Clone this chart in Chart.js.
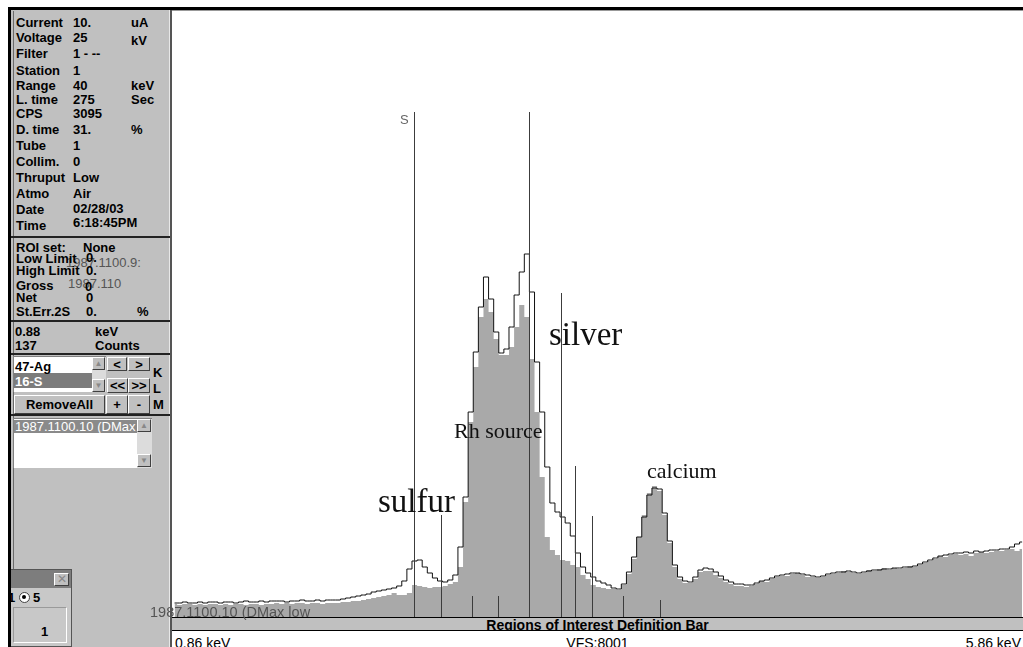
<!DOCTYPE html>
<html lang="en">
<head>
<meta charset="UTF-8">
<title>XRF spectrum</title>
<script src="https://cdn.jsdelivr.net/npm/chart.js"></script>
<style>
    body { margin: 0; width: 1023px; height: 647px; overflow: hidden; background: #fff; position: relative;
           font-family: "Liberation Sans", Arial, sans-serif; }
    .abs { position: absolute; }
    .t { position: absolute; font-size: 13px; line-height: 13px; white-space: nowrap; color: #000; }
    .b { font-weight: bold; }
    .note { position: absolute; font-family: "Liberation Serif", "Times New Roman", serif; line-height: 1; white-space: nowrap; color: #111; }
    .btn { position: absolute; background: #c0c0c0; border-top: 1px solid #fff; border-left: 1px solid #fff;
           border-right: 1px solid #404040; border-bottom: 1px solid #404040; box-sizing: border-box;
           font: bold 13px "Liberation Sans", Arial, sans-serif; text-align: center; line-height: 13px; }
    .sep { position: absolute; left: 11px; width: 159px; height: 2px; background: #222; }
</style>
</head>
<body>
<!-- window frame -->
<div class="abs" style="left:8px;top:7px;width:1015px;height:3px;background:#000"></div>
<div class="abs" style="left:11px;top:10px;width:158px;height:637px;background:#c0c0c0"></div>
<div class="abs" style="left:13px;top:11px;width:1px;height:558px;background:#6a6a6a"></div>
<div class="abs" style="left:169px;top:10px;width:1px;height:637px;background:#e8e8e8"></div>
<div class="abs" style="left:170px;top:10px;width:2px;height:637px;background:#555"></div>
<div class="sep" style="top:236px"></div>
<div class="sep" style="top:320px"></div>
<div class="sep" style="top:353px"></div>
<div class="sep" style="top:414px"></div>

<!-- chart area -->
<div class="abs" style="left:172px;top:10px;width:851px;height:607px;background:#fff;border-top:1px solid #999;box-sizing:border-box"></div>
<canvas id="spec" width="851" height="607" class="abs" style="left:172px;top:10px;width:851px;height:607px"></canvas>

<!-- ROI bar -->
<div class="abs" style="left:172px;top:617px;width:851px;height:1px;background:#000"></div>
<div class="abs" style="left:172px;top:618px;width:851px;height:12px;background:#c0c0c0"></div>
<div class="abs" style="left:172px;top:630px;width:851px;height:1px;background:#000"></div>
<div class="t b" style="left:172px;width:851px;text-align:center;top:618px;font-size:14px;line-height:14px;height:12px;overflow:hidden">Regions of Interest Definition Bar</div>
<div class="t" style="left:175px;top:636px;font-size:14px;line-height:14px">0.86 keV</div>
<div class="t" style="left:172px;width:851px;text-align:center;top:636px;font-size:14px;line-height:14px">VFS:8001</div>
<div class="t" style="right:2px;top:636px;font-size:14px;line-height:14px">5.86 keV</div>

<!-- list boxes and buttons -->
<div class="abs" style="left:13px;top:356px;width:93px;height:36px;background:#fff;border-top:1px solid #808080;border-left:1px solid #808080;box-sizing:border-box"></div>
<div class="abs" style="left:14px;top:373px;width:78px;height:15px;background:#7c7c7c"></div>
<div class="abs" style="left:92px;top:357px;width:14px;height:35px;background:#dcdcdc"></div>
<div class="btn" style="left:92px;top:357px;width:13px;height:13px;font-size:8px;line-height:11px;color:#888">&#9650;</div>
<div class="btn" style="left:92px;top:379px;width:13px;height:13px;font-size:8px;line-height:11px;color:#888">&#9660;</div>
<div class="btn" style="left:107px;top:357px;width:20px;height:14px">&lt;</div>
<div class="btn" style="left:128px;top:357px;width:22px;height:14px">&gt;</div>
<div class="btn" style="left:107px;top:378px;width:21px;height:15px">&lt;&lt;</div>
<div class="btn" style="left:128px;top:378px;width:22px;height:15px">&gt;&gt;</div>
<div class="btn" style="left:14px;top:395px;width:91px;height:19px;line-height:17px">RemoveAll</div>
<div class="btn" style="left:106px;top:395px;width:22px;height:19px;line-height:17px">+</div>
<div class="btn" style="left:128px;top:395px;width:22px;height:19px;line-height:17px">-</div>

<div class="abs" style="left:13px;top:418px;width:139px;height:50px;background:#fff;border-top:1px solid #808080;border-left:1px solid #808080;box-sizing:border-box"></div>
<div class="abs" style="left:14px;top:420px;width:123px;height:13px;background:#8a8a8a"></div>
<div class="abs" style="left:137px;top:419px;width:15px;height:49px;background:#dcdcdc"></div>
<div class="btn" style="left:137px;top:419px;width:14px;height:13px;font-size:8px;line-height:11px;color:#888">&#9650;</div>
<div class="btn" style="left:137px;top:454px;width:14px;height:13px;font-size:8px;line-height:11px;color:#888">&#9660;</div>

<!-- small floating window -->
<div class="abs" style="left:8px;top:569px;width:64px;height:78px;background:#c8c8c8;border:1px solid #555;box-sizing:border-box"></div>
<div class="abs" style="left:9px;top:570px;width:62px;height:18px;background:#7d7d7d"></div>
<div class="btn" style="left:54px;top:573px;width:15px;height:13px;font-weight:normal;color:#888;font-size:12px;line-height:11px">&#10005;</div>
<div class="abs" style="left:19px;top:592px;width:9px;height:9px;border-radius:50%;background:#fff;border:1px solid #444"></div>
<div class="abs" style="left:22px;top:595px;width:4px;height:4px;border-radius:50%;background:#000"></div>
<div class="abs" style="left:13px;top:607px;width:54px;height:36px;border-right:1px solid #fff;border-bottom:1px solid #fff;border-top:1px solid #9a9a9a;border-left:1px solid #9a9a9a;box-sizing:border-box"></div>
<div class="abs" style="left:8px;top:7px;width:3px;height:640px;background:#000"></div>

<div id="texts"></div>

<script>
// channel layout of the spectrum (keV)
const binStart = 0.86;
const binWidth = 0.03;

// grey filled spectrum (sample), counts per channel
const sampleCounts = [
    13,12,13,13,12,13,12,13,13,12,13,12,13,13,12,13,13,12,13,13,14,
    13,14,13,14,14,13,14,14,13,14,
    14,14,15,15,
    16,16,17,18,19,20,21,22,24,22,
    22,24,32,31,30,29,30,30,31,33,35,
    50,115,195,250,300,318,305,278,262,262,270,290,312,300,
    258,205,140,80,67,62,57,56,52,50,42,38,32,30,29,28,28,27,
    32,43,58,80,102,124,131,126,102,74,50,38,34,34,
    38,45,46,46,42,39,35,33,31,31,30,31,
    33,36,35,38,40,41,41,43,44,42,40,40,39,
    40,42,43,44,46,45,44,43,44,47,46,48,49,47,
    49,48,49,51,50,52,54,56,58,61,60,62,63,
    62,63,61,64,65,64,65,66,66,67,68,66,68
];

// black outline spectrum (reference), counts per channel
const refCounts = [
    14,14,15,14,14,15,14,15,15,14,15,15,14,15,16,15,15,16,15,16,16,
    16,15,16,16,17,16,16,17,16,17,
    17,17,18,19,
    20,21,22,23,25,26,27,28,29,31,
    36,48,56,57,50,44,39,36,35,37,42,
    70,120,205,265,310,340,318,285,264,268,290,322,345,363,
    325,255,205,150,114,105,100,94,81,64,50,44,40,36,34,32,29,28,
    33,45,60,80,100,122,129,128,104,76,52,40,36,35,
    40,47,49,48,45,41,37,35,33,33,32,32,
    34,36,37,39,41,42,43,44,44,43,42,41,40,
    41,43,44,45,45,46,45,44,45,46,47,47,48,48,
    49,49,50,50,51,53,55,57,59,61,62,63,64,
    64,65,64,66,65,66,67,67,68,68,70,73,75
];

// element line markers: energy (keV) and marker height (counts)
const markerKeV = [2.282, 2.440, 2.620, 2.778, 2.960, 3.145, 3.228, 3.328, 3.507, 3.727];
const markerTop = [505, 102, 21, 21, 505, 324, 151, 101, 21, 17];

const toPoints = arr => arr.map((v, i) => ({ x: binStart + (i + 0.5) * binWidth, y: v }));

const markerLines = {
    id: 'markerLines',
    afterDatasetsDraw(chart) {
        const { ctx, scales: { x, y } } = chart;
        ctx.save();
        ctx.strokeStyle = '#3c3c3c';
        ctx.lineWidth = 1;
        markerKeV.forEach((e, i) => {
            const px = Math.round(x.getPixelForValue(e)) + 0.5;
            ctx.beginPath();
            ctx.moveTo(px, y.getPixelForValue(markerTop[i]));
            ctx.lineTo(px, y.getPixelForValue(0));
            ctx.stroke();
        });
        ctx.restore();
    }
};

new Chart(document.getElementById('spec'), {
    type: 'line',
    data: {
        datasets: [
            { data: toPoints(refCounts), stepped: 'middle', fill: false, borderColor: '#111', borderWidth: 1, pointRadius: 0, order: 1 },
            { data: toPoints(sampleCounts), stepped: 'middle', fill: 'origin', backgroundColor: '#a9a9a9', borderColor: '#a9a9a9', borderWidth: 0, pointRadius: 0, order: 2 }
        ]
    },
    options: {
        responsive: false,
        animation: false,
        devicePixelRatio: 1,
        layout: { padding: 0 },
        scales: {
            x: { type: 'linear', min: 0.86, max: 5.86, display: false },
            y: { min: 0, max: 607, display: false }
        },
        plugins: { legend: { display: false }, tooltip: { enabled: false } }
    },
    plugins: [markerLines]
});

// panel text
const box = document.getElementById('texts');
function put(text, left, cy, cls, extra) {
    const d = document.createElement('div');
    d.className = 't ' + (cls || '');
    d.textContent = text;
    d.style.left = left + 'px';
    d.style.top = (cy - 6) + 'px';
    if (extra) Object.assign(d.style, extra);
    box.appendChild(d);
}
const status = [
    ['Current', '10.', 'uA', 22, 22, 22],
    ['Voltage', '25', 'kV', 37, 37, 40],
    ['Filter', '1 - --', '', 53, 53],
    ['Station', '1', '', 70, 70],
    ['Range', '40', 'keV', 85, 85, 85],
    ['L. time', '275', 'Sec', 99, 99, 99],
    ['CPS', '3095', '', 113, 113],
    ['D. time', '31.', '%', 129, 129, 129],
    ['Tube', '1', '', 145, 145],
    ['Collim.', '0', '', 161, 161],
    ['Thruput', 'Low', '', 177, 177],
    ['Atmo', 'Air', '', 193, 193],
    ['Date', '02/28/03', '', 209, 208],
    ['Time', '6:18:45PM', '', 225, 222]
];
status.forEach(r => {
    put(r[0], 16, r[3], 'b');
    put(r[1], 73, r[4], 'b');
    if (r[2]) put(r[2], 131, r[5], 'b');
});
put('1987.1100.9:', 66, 262, '', { color: '#555' });
put('1987.110', 68, 283, '', { color: '#555' });
put('ROI set:', 16, 247, 'b'); put('None', 83, 247, 'b');
put('Low Limit', 16, 258, 'b'); put('0.', 86, 257, 'b');
put('High Limit', 16, 270, 'b'); put('0.', 86, 270, 'b');
put('Gross', 16, 285, 'b'); put('0', 85, 286, 'b');
put('Net', 16, 297, 'b'); put('0', 86, 297, 'b');
put('St.Err.2S', 16, 311, 'b'); put('0.', 86, 311, 'b'); put('%', 137, 311, 'b');
put('0.88', 15, 331, 'b'); put('keV', 95, 331, 'b');
put('137', 15, 345, 'b'); put('Counts', 95, 345, 'b');
put('47-Ag', 15, 366, 'b');
put('16-S', 15, 381, 'b', { color: '#fff' });
put('K', 153, 372, 'b'); put('L', 153, 388, 'b'); put('M', 153, 404, 'b');
put('1987.1100.10 (DMax', 15, 426, '', { color: '#fff' });
put('1', 8, 597, 'b');
put('5', 33, 597, 'b');
put('1', 41, 631, 'b');

// chart annotations
put('S', 400, 119, '', { color: '#666' });
put('1987.1100.10 (DMax low', 150, 611, '', { color: '#555', fontSize: '14.5px', lineHeight: '14px' });
[['sulfur', 378, 485, 33], ['silver', 549, 318, 33], ['Rh source', 454, 420, 22], ['calcium', 647, 460, 22]].forEach(n => {
    const d = document.createElement('div');
    d.className = 'note';
    d.textContent = n[0];
    d.style.left = n[1] + 'px';
    d.style.top = n[2] + 'px';
    d.style.fontSize = n[3] + 'px';
    box.appendChild(d);
});
</script>
</body>
</html>
